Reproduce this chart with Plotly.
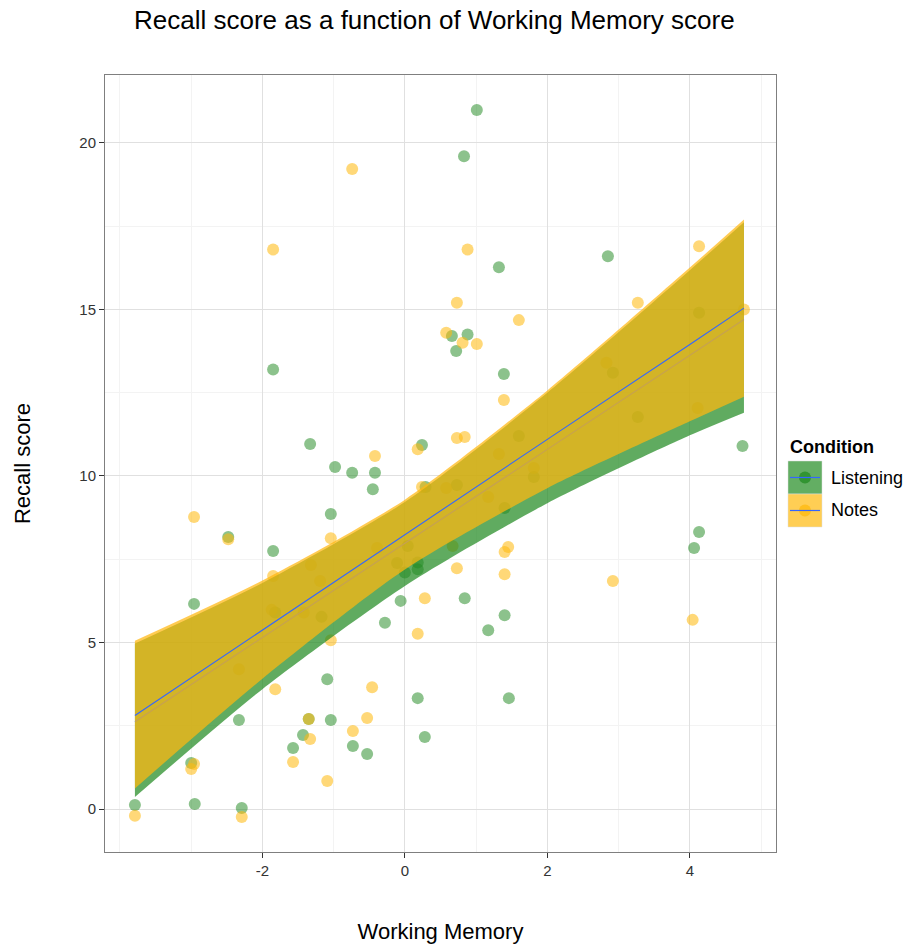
import plotly.graph_objects as go

# ---------------- data ----------------
listening_x = [1.01, 0.83, 1.32, 2.85, 4.13, 0.88, 0.66, 0.72, 1.39, -1.85,
               -1.33, -0.98, -0.74, -0.42, -0.45, 0.24, 0.29, -2.48, -1.04, -1.85,
               4.74, 4.13, 4.06, 2.92, 3.27, 1.60, 1.81, 1.40, 0.73, -1.17,
               -1.82, 0.04, 0.00, 0.18, -2.96, -0.06, -0.28, -1.09, 0.18, -2.33,
               -1.35, -1.04, 0.28, -1.43, -1.57, -0.73, -0.53, -3.00, -3.79, -2.95,
               -2.29, 0.84, 1.40, 1.17, 1.46, 0.18, -0.11]
listening_y = [20.99, 19.60, 16.27, 16.60, 14.90, 14.25, 14.20, 13.75, 13.06, 13.20,
               10.96, 10.27, 10.10, 10.10, 9.60, 10.93, 9.67, 8.17, 8.86, 7.75,
               10.90, 8.32, 7.84, 13.10, 11.77, 11.20, 9.97, 9.04, 9.73, 5.77,
               5.90, 7.90, 7.10, 7.20, 6.16, 6.25, 5.59, 3.90, 3.33, 2.67,
               2.70, 2.67, 2.16, 2.22, 1.83, 1.89, 1.65, 1.38, 0.12, 0.15,
               0.03, 6.33, 5.82, 5.37, 3.33, 7.40, 7.39]

notes_x = [-0.74, -1.85, 0.88, 0.73, 1.60, 4.13, 3.27, 4.76, 0.58, 0.81,
           1.01, 1.39, 0.73, 0.84, -0.42, 0.18, 0.24, -2.96, -2.48, -1.04,
           -1.85, 1.45, 1.40, 0.73, 1.40, 2.92, 0.67, 2.83, 4.11, 1.32,
           1.81, 1.17, 0.58, -1.32, -1.19, -0.39, -2.33, -1.87, -1.42, 0.28,
           0.18, -1.04, -1.82, -0.46, -1.35, -0.53, -1.33, -0.73, -1.57, -1.09,
           -2.96, -3.00, -3.79, -2.29, 4.04]
notes_y = [19.22, 16.80, 16.80, 15.20, 14.68, 16.90, 15.20, 15.00, 14.30, 14.00,
           13.96, 12.28, 11.14, 11.17, 10.60, 10.80, 9.67, 8.77, 8.10, 8.13,
           7.00, 7.87, 7.72, 7.23, 7.05, 6.85, 7.90, 13.40, 12.04, 10.66,
           10.24, 9.37, 9.64, 7.33, 6.85, 7.84, 4.20, 5.98, 5.90, 6.33,
           5.26, 5.07, 3.60, 3.66, 2.70, 2.73, 2.10, 2.34, 1.41, 0.84,
           1.35, 1.20, -0.20, -0.24, 5.68]

# fitted lines and confidence bands, read at a few x positions
band_x = [-3.79, -2.0, 0.0, 2.0, 4.0, 4.76]
listening_fit = [2.62, 5.16, 7.98, 10.80, 13.62, 14.70]
listening_lo = [0.36, 3.60, 6.70, 9.18, 11.22, 11.90]
listening_hi = [4.97, 6.79, 9.22, 12.50, 16.18, 17.62]
notes_fit = [2.81, 5.38, 8.24, 11.10, 13.95, 15.04]
notes_lo = [0.62, 3.91, 7.19, 9.63, 11.64, 12.38]
notes_hi = [5.05, 6.86, 9.29, 12.57, 16.26, 17.70]

x_ticks = [-2, 0, 2, 4]
y_ticks = [0, 5, 10, 15, 20]

# ---------------- styling ----------------
FONT = "Liberation Sans, Arial, sans-serif"
G_PT = "rgba(34,139,34,0.52)"
Y_PT = "rgba(255,185,15,0.56)"
G_RIB = "rgba(34,139,34,0.72)"
Y_RIB = "rgba(255,183,15,0.72)"
BLUE = "#3366FF"

W, H = 906, 945
L, R, T, B = 105, 776, 75, 852

fig = go.Figure()

# points
fig.add_trace(go.Scatter(x=listening_x, y=listening_y, mode="markers",
                         marker=dict(size=12, color=G_PT, line=dict(width=0)),
                         showlegend=False, hoverinfo="skip"))
fig.add_trace(go.Scatter(x=notes_x, y=notes_y, mode="markers",
                         marker=dict(size=12, color=Y_PT, line=dict(width=0)),
                         showlegend=False, hoverinfo="skip"))


def add_band(lo, hi, fit, fill):
    fig.add_trace(go.Scatter(x=band_x, y=lo, mode="lines",
                             line=dict(width=0, shape="spline", smoothing=0.7),
                             showlegend=False, hoverinfo="skip"))
    fig.add_trace(go.Scatter(x=band_x, y=hi, mode="lines", fill="tonexty",
                             fillcolor=fill,
                             line=dict(width=0, shape="spline", smoothing=0.7),
                             showlegend=False, hoverinfo="skip"))
    fig.add_trace(go.Scatter(x=band_x, y=fit, mode="lines",
                             line=dict(width=1.1, color=BLUE),
                             showlegend=False, hoverinfo="skip"))


add_band(listening_lo, listening_hi, listening_fit, G_RIB)
add_band(notes_lo, notes_hi, notes_fit, Y_RIB)


# ---------------- manual legend ----------------
def px_x(p):
    return (p - L) / (R - L)


def px_y(p):
    return (B - p) / (B - T)


shapes = []
annotations = []
keys = [("Listening", 461, 494, "rgb(99,174,99)", "rgba(34,139,34,0.75)"),
        ("Notes", 494, 527, "rgb(255,206,84)", "rgba(255,185,15,0.75)")]
for label, y0, y1, sq, dot in keys:
    shapes.append(dict(type="rect", xref="paper", yref="paper",
                       x0=px_x(788), x1=px_x(822), y0=px_y(y1), y1=px_y(y0),
                       fillcolor=sq, line=dict(width=0.5, color="#dddddd"), layer="above"))
    yc = (y0 + y1) / 2
    shapes.append(dict(type="circle", xref="paper", yref="paper",
                       x0=px_x(799), x1=px_x(811), y0=px_y(yc + 6), y1=px_y(yc - 6),
                       fillcolor=dot, line=dict(width=0), layer="above"))
    shapes.append(dict(type="line", xref="paper", yref="paper",
                       x0=px_x(790), x1=px_x(820), y0=px_y(yc), y1=px_y(yc),
                       line=dict(color=BLUE, width=1.2), layer="above"))
    annotations.append(dict(text=label, xref="paper", yref="paper",
                            x=px_x(829), y=px_y(yc), xanchor="left", yanchor="middle",
                            showarrow=False, font=dict(family=FONT, size=18, color="#000000")))
annotations.append(dict(text="<b>Condition</b>", xref="paper", yref="paper",
                        x=px_x(788), y=px_y(447), xanchor="left", yanchor="middle",
                        showarrow=False, font=dict(family=FONT, size=18, color="#000000")))

axis_common = dict(showline=True, linecolor="#7f7f7f", linewidth=1, mirror=True,
                   ticks="outside", ticklen=5, tickcolor="#333333", tickwidth=1,
                   showgrid=True, gridcolor="#e0e0e0", gridwidth=1, zeroline=False,
                   automargin=False,
                   tickfont=dict(family=FONT, size=15, color="#333333"))

fig.update_layout(
    width=W, height=H,
    margin=dict(l=L, r=W - R, t=T, b=H - B, pad=0),
    paper_bgcolor="white", plot_bgcolor="white",
    showlegend=False,
    title=dict(text="Recall score as a function of Working Memory score",
               x=134 / W, xref="container", xanchor="left",
               y=1 - 20 / H, yref="container", yanchor="middle",
               font=dict(family=FONT, size=26, color="#000000")),
    xaxis=dict(range=[-4.21, 5.21], tickvals=x_ticks,
               ticktext=[str(v) for v in x_ticks],
               minor=dict(dtick=1, tick0=0, showgrid=True, gridcolor="#f3f3f3", ticks=""),
               title=dict(text="Working Memory", standoff=45,
                          font=dict(family=FONT, size=22, color="#000000")),
               **axis_common),
    yaxis=dict(range=[-1.29, 22.04], tickvals=y_ticks,
               ticktext=[str(v) for v in y_ticks],
               minor=dict(dtick=2.5, tick0=0, showgrid=True, gridcolor="#f3f3f3", ticks=""),
               title=dict(text="Recall score", standoff=42,
                          font=dict(family=FONT, size=22, color="#000000")),
               **axis_common),
    shapes=shapes, annotations=annotations,
)

fig.write_html("out.html")
